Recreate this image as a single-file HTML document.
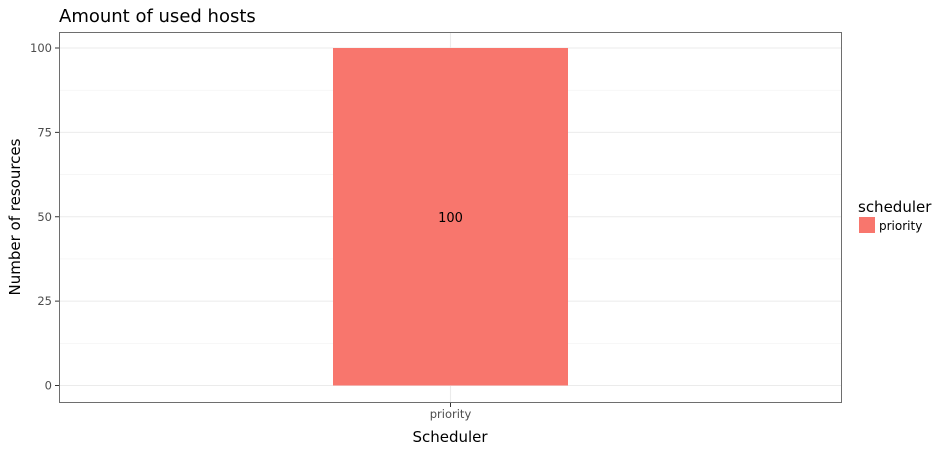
<!DOCTYPE html>
<html><head><meta charset="utf-8"><style>
body{margin:0;background:#fff;}
svg{display:block;font-family:"DejaVu Sans","Liberation Sans",sans-serif;}
</style></head><body>
<svg id="chart" width="950" height="450">
<rect x="0" y="0" width="950" height="450" fill="#fff"/>
<text x="59" y="22" font-size="18" fill="#000">Amount of used hosts</text>
<g id="grid"></g>
<g id="bars"></g>
<rect x="59.5" y="32.5" width="782" height="370" fill="none" stroke="#6e6e6e" stroke-width="1"/>
<g id="axes"></g>
<text x="450" y="442" font-size="15" text-anchor="middle" fill="#000">Scheduler</text>
<text transform="translate(20,217) rotate(-90)" font-size="15" text-anchor="middle" fill="#000">Number of resources</text>
<g>
<text x="858" y="212" font-size="15" fill="#000">scheduler</text>
<rect x="859" y="217" width="16" height="16" fill="#f8766d"/>
<text x="879" y="230" font-size="12" fill="#000">priority</text>
</g>
</svg>
<script>
const categories = ["priority"];
const values = [100];
const yTicks = [0, 25, 50, 75, 100];
const yMinor = [12.5, 37.5, 62.5, 87.5];

const ns = "http://www.w3.org/2000/svg";
const y = v => 385.5 - v * 3.375;
const x = i => 450.5 + (i - (categories.length - 1) / 2) * 235 / 0.6;
function mk(tag, attrs, parent) {
  const e = document.createElementNS(ns, tag);
  for (const k in attrs) e.setAttribute(k, attrs[k]);
  document.getElementById(parent).appendChild(e);
  return e;
}
yMinor.forEach(v => {
  const l = mk("line", {x1: 60, x2: 841, y1: y(v), y2: y(v), stroke: "#f2f2f2", "stroke-width": 0.6}, "grid");
  
  
});
yTicks.forEach(v => {
  const l = mk("line", {x1: 60, x2: 841, y1: y(v), y2: y(v), stroke: "#ebebeb", "stroke-width": 1.1}, "grid");
  
  
  const t = mk("line", {x1: 55, x2: 59, y1: y(v), y2: y(v), stroke: "#333", "stroke-width": 1}, "axes");
  
  
  const tx = mk("text", {x: 52, y: y(v) + 4, "font-size": 11.5, "text-anchor": "end", fill: "#4d4d4d"}, "axes");
  tx.textContent = v;
  
  
});
categories.forEach((c, i) => {
  const cx = x(i);
  const g = mk("line", {x1: cx, x2: cx, y1: 33, y2: 402, stroke: "#ebebeb", "stroke-width": 1.1}, "grid");
  
  
  const b = mk("rect", {x: cx - 117.5, y: y(values[i]), width: 235, height: y(0) - y(values[i]), fill: "#f8766d"}, "bars");
  
  
  const lb = mk("text", {x: cx, y: y(values[i] / 2) + 5, "font-size": 13, "text-anchor": "middle", fill: "#000"}, "bars");
  lb.textContent = values[i];
  
  
  const t = mk("line", {x1: cx, x2: cx, y1: 403, y2: 407, stroke: "#333", "stroke-width": 1}, "axes");
  
  
  const tx = mk("text", {x: cx, y: 418, "font-size": 11.5, "text-anchor": "middle", fill: "#4d4d4d"}, "axes");
  tx.textContent = c;
  
  
});
</script>
</body></html>
